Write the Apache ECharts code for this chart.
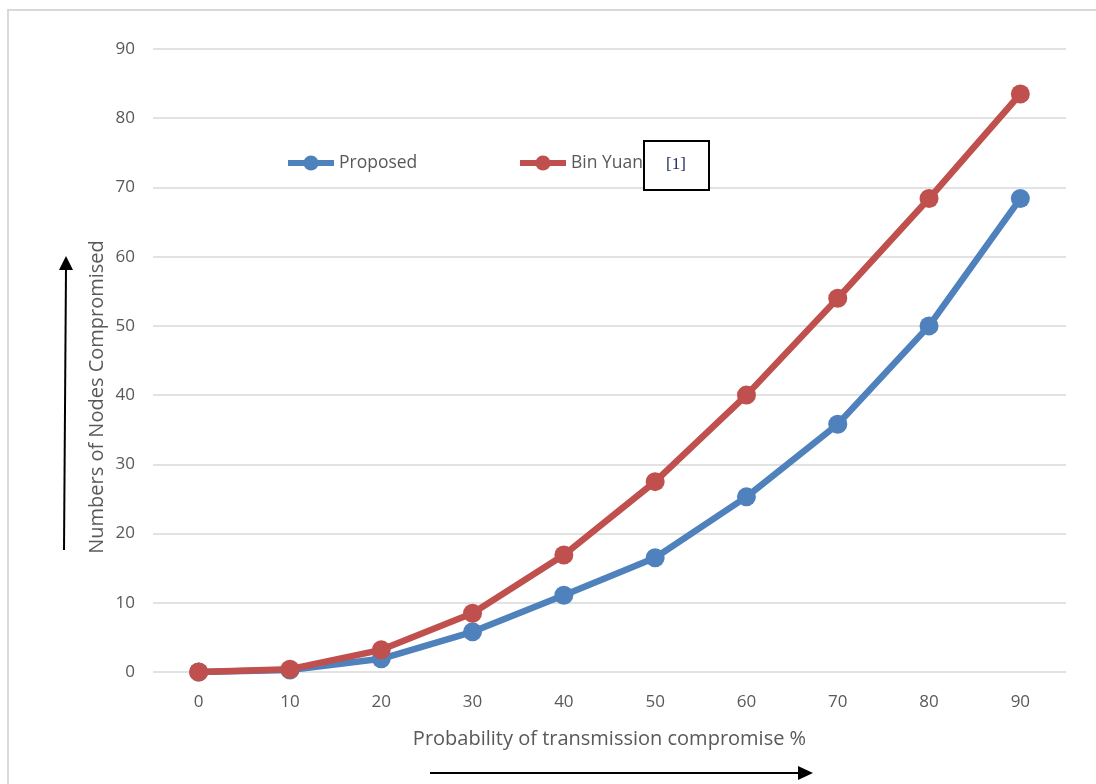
<!DOCTYPE html>
<html><head><meta charset="utf-8">
<script src="https://cdn.jsdelivr.net/npm/echarts@6/dist/echarts.min.js"></script>
<style>html,body{margin:0;padding:0;background:#fff}#c{width:1096px;height:784px}</style>
</head><body><div id="c"></div>
<script>
const categories = ['0','10','20','30','40','50','60','70','80','90'];
const proposed = [0, 0.3, 1.9, 5.8, 11.1, 16.5, 25.3, 35.8, 50, 68.4];
const binYuan = [0, 0.4, 3.2, 8.5, 16.9, 27.5, 40, 54, 68.4, 83.5];
const yTicks = {min: 0, max: 90, interval: 10};
const chart = echarts.init(document.getElementById('c'));
const font = '"Open Sans", "Liberation Sans", sans-serif';
const legendCommon = {top: 154, padding: 0, itemWidth: 46, itemHeight: 19,
  lineStyle: {width: 6}, textStyle: {fontFamily: font, fontSize: 17.5, color: '#595959'}};
chart.setOption({
  animation: false,
  grid: {left: 153, right: 30, top: 49, bottom: 112},
  legend: [
    Object.assign({data: ['Proposed'], left: 285}, legendCommon),
    Object.assign({data: ['Bin Yuan'], left: 517}, legendCommon)
  ],
  xAxis: {
    type: 'category', data: categories, boundaryGap: true,
    axisLine: {show: false}, axisTick: {show: false},
    axisLabel: {margin: 22, fontFamily: font, fontSize: 17, color: '#595959'},
    name: 'Probability of transmission compromise %', nameLocation: 'middle', nameGap: 57,
    nameTextStyle: {fontFamily: font, fontSize: 20, color: '#595959'}
  },
  yAxis: {
    type: 'value', min: yTicks.min, max: yTicks.max, interval: yTicks.interval,
    axisLine: {show: false}, axisTick: {show: false},
    splitLine: {lineStyle: {color: '#d9d9d9', width: 1.5}},
    axisLabel: {margin: 18, fontFamily: font, fontSize: 17, color: '#595959'}
  },
  series: [
    {name: 'Proposed', type: 'line', data: proposed, symbol: 'circle', symbolSize: 19,
     lineStyle: {width: 6.5, color: '#4f81bd'}, itemStyle: {color: '#4f81bd'}},
    {name: 'Bin Yuan', type: 'line', data: binYuan, symbol: 'circle', symbolSize: 19,
     lineStyle: {width: 6.5, color: '#c0504d'}, itemStyle: {color: '#c0504d'}}
  ],
  graphic: [
    {type: 'rect', shape: {x: 8, y: 10, width: 1100, height: 800}, style: {fill: 'none', stroke: '#d9d9d9', lineWidth: 2}, silent: true},
    {type: 'text', x: 97, y: 397, rotation: Math.PI / 2, style: {text: 'Numbers of Nodes Compromised', font: '20px ' + font, fill: '#595959', align: 'center', verticalAlign: 'middle'}},
    {type: 'rect', z: 100, shape: {x: 644, y: 141, width: 65, height: 49}, style: {fill: '#fff', stroke: '#000', lineWidth: 2}},
    {type: 'text', z: 101, x: 676, y: 165, style: {text: '[1]', font: '17px "Liberation Serif", serif', fill: '#1f2a5a', align: 'center', verticalAlign: 'middle'}},
    {type: 'line', shape: {x1: 64, y1: 550, x2: 66, y2: 268}, style: {stroke: '#000', lineWidth: 2}},
    {type: 'polygon', shape: {points: [[66, 256], [59, 270], [73, 270]]}, style: {fill: '#000'}},
    {type: 'line', shape: {x1: 430, y1: 773, x2: 800, y2: 773}, style: {stroke: '#000', lineWidth: 2}},
    {type: 'polygon', shape: {points: [[813, 773], [798, 766], [798, 780]]}, style: {fill: '#000'}}
  ]
});
</script></body></html>
